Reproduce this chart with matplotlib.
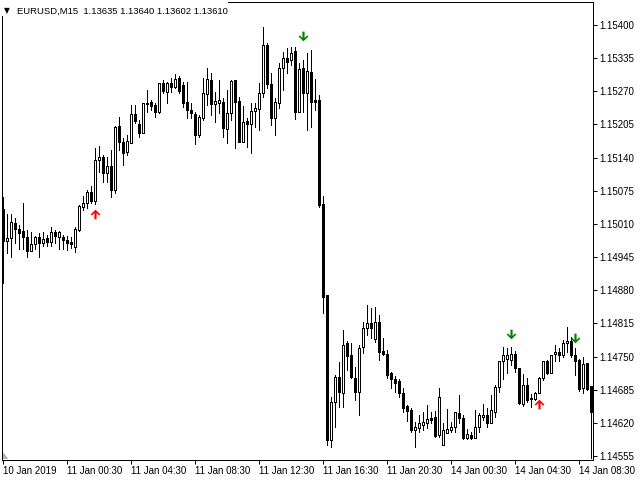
import matplotlib
matplotlib.use("Agg")
import matplotlib.pyplot as plt
from matplotlib.patches import Rectangle, Polygon
from matplotlib.path import Path

# ---- data (EURUSD M15 candles) ----
opens = [1.15039, 1.14976, 1.14982, 1.15012, 1.15000, 1.14996, 1.14984, 1.14957, 1.14971, 1.14984,
         1.14973, 1.14982, 1.14975, 1.14994, 1.14984, 1.14984, 1.14978, 1.14975, 1.14965, 1.14998,
         1.15043, 1.15051, 1.15073, 1.15055, 1.15135, 1.15141, 1.15110, 1.15124, 1.15076, 1.15202,
         1.15171, 1.15151, 1.15169, 1.15225, 1.15206, 1.15188, 1.15247, 1.15249, 1.15243, 1.15229,
         1.15286, 1.15269, 1.15286, 1.15278, 1.15296, 1.15282, 1.15249, 1.15233, 1.15225, 1.15184,
         1.15218, 1.15265, 1.15292, 1.15245, 1.15247, 1.15249, 1.15196, 1.15227, 1.15292, 1.15251,
         1.15171, 1.15212, 1.15206, 1.15231, 1.15235, 1.15267, 1.15361, 1.15284, 1.15218, 1.15247,
         1.15316, 1.15335, 1.15331, 1.15349, 1.15229, 1.15316, 1.15267, 1.15308, 1.15253, 1.15253,
         1.15049, 1.14871, 1.14586, 1.14661, 1.14710, 1.14678, 1.14776, 1.14753, 1.14708, 1.14680,
         1.14769, 1.14806, 1.14816, 1.14784, 1.14818, 1.14761, 1.14755, 1.14718, 1.14706, 1.14702,
         1.14678, 1.14653, 1.14645, 1.14606, 1.14610, 1.14616, 1.14620, 1.14629, 1.14631, 1.14596,
         1.14576, 1.14600, 1.14606, 1.14612, 1.14639, 1.14629, 1.14590, 1.14596, 1.14590, 1.14612,
         1.14631, 1.14635, 1.14620, 1.14641, 1.14690, 1.14741, 1.14745, 1.14743, 1.14755, 1.14727,
         1.14657, 1.14694, 1.14669, 1.14667, 1.14678, 1.14708, 1.14741, 1.14718, 1.14755, 1.14759,
         1.14753, 1.14776, 1.14780, 1.14753, 1.14743, 1.14688, 1.14737, 1.14692]
highs = [1.15063, 1.15029, 1.15029, 1.15022, 1.15008, 1.15051, 1.14998, 1.14994, 1.14986, 1.14992,
         1.14994, 1.14988, 1.15004, 1.14998, 1.14996, 1.14988, 1.14986, 1.14984, 1.15004, 1.15047,
         1.15065, 1.15076, 1.15084, 1.15159, 1.15163, 1.15145, 1.15141, 1.15155, 1.15202, 1.15220,
         1.15178, 1.15184, 1.15243, 1.15243, 1.15214, 1.15247, 1.15273, 1.15253, 1.15247, 1.15286,
         1.15292, 1.15288, 1.15296, 1.15304, 1.15300, 1.15288, 1.15288, 1.15247, 1.15229, 1.15224,
         1.15296, 1.15316, 1.15306, 1.15269, 1.15292, 1.15257, 1.15273, 1.15292, 1.15292, 1.15259,
         1.15241, 1.15218, 1.15247, 1.15247, 1.15286, 1.15396, 1.15365, 1.15306, 1.15257, 1.15325,
         1.15347, 1.15355, 1.15357, 1.15357, 1.15325, 1.15331, 1.15345, 1.15351, 1.15294, 1.15263,
         1.15065, 1.14871, 1.14671, 1.14714, 1.14739, 1.14802, 1.14780, 1.14776, 1.14729, 1.14773,
         1.14818, 1.14851, 1.14845, 1.14847, 1.14831, 1.14786, 1.14763, 1.14720, 1.14712, 1.14706,
         1.14688, 1.14655, 1.14649, 1.14622, 1.14635, 1.14641, 1.14655, 1.14641, 1.14643, 1.14688,
         1.14620, 1.14647, 1.14622, 1.14641, 1.14675, 1.14635, 1.14608, 1.14602, 1.14645, 1.14639,
         1.14657, 1.14649, 1.14675, 1.14694, 1.14741, 1.14769, 1.14767, 1.14769, 1.14761, 1.14727,
         1.14716, 1.14708, 1.14676, 1.14680, 1.14710, 1.14741, 1.14743, 1.14753, 1.14773, 1.14767,
         1.14782, 1.14808, 1.14788, 1.14767, 1.14745, 1.14749, 1.14737, 1.14692]
lows = [1.14894, 1.14953, 1.14945, 1.14973, 1.14961, 1.14961, 1.14945, 1.14957, 1.14961, 1.14945,
        1.14967, 1.14967, 1.14967, 1.14973, 1.14961, 1.14961, 1.14959, 1.14963, 1.14955, 1.14996,
        1.15037, 1.15041, 1.15051, 1.15049, 1.15112, 1.15092, 1.15092, 1.15063, 1.15071, 1.15155,
        1.15125, 1.15145, 1.15169, 1.15208, 1.15180, 1.15188, 1.15229, 1.15233, 1.15220, 1.15227,
        1.15267, 1.15247, 1.15269, 1.15276, 1.15267, 1.15239, 1.15218, 1.15218, 1.15167, 1.15180,
        1.15214, 1.15243, 1.15224, 1.15210, 1.15227, 1.15180, 1.15169, 1.15214, 1.15159, 1.15171,
        1.15171, 1.15161, 1.15149, 1.15200, 1.15194, 1.15259, 1.15276, 1.15204, 1.15184, 1.15237,
        1.15273, 1.15306, 1.15322, 1.15216, 1.15229, 1.15229, 1.15194, 1.15200, 1.15233, 1.15043,
        1.14835, 1.14576, 1.14573, 1.14612, 1.14651, 1.14651, 1.14724, 1.14708, 1.14665, 1.14635,
        1.14757, 1.14792, 1.14786, 1.14778, 1.14743, 1.14753, 1.14708, 1.14688, 1.14680, 1.14671,
        1.14641, 1.14624, 1.14602, 1.14573, 1.14602, 1.14606, 1.14610, 1.14620, 1.14592, 1.14592,
        1.14576, 1.14600, 1.14602, 1.14602, 1.14620, 1.14588, 1.14588, 1.14588, 1.14590, 1.14602,
        1.14625, 1.14612, 1.14620, 1.14631, 1.14680, 1.14706, 1.14718, 1.14733, 1.14720, 1.14657,
        1.14653, 1.14661, 1.14651, 1.14665, 1.14678, 1.14704, 1.14716, 1.14718, 1.14741, 1.14741,
        1.14749, 1.14759, 1.14749, 1.14714, 1.14682, 1.14678, 1.14684, 1.14551]
closes = [1.14976, 1.14982, 1.15014, 1.15000, 1.14992, 1.14984, 1.14957, 1.14971, 1.14984, 1.14973,
          1.14980, 1.14975, 1.14994, 1.14986, 1.14994, 1.14978, 1.14973, 1.14971, 1.15000, 1.15045,
          1.15051, 1.15073, 1.15055, 1.15135, 1.15141, 1.15110, 1.15124, 1.15076, 1.15200, 1.15171,
          1.15149, 1.15173, 1.15225, 1.15212, 1.15188, 1.15247, 1.15245, 1.15241, 1.15229, 1.15286,
          1.15271, 1.15286, 1.15278, 1.15294, 1.15271, 1.15247, 1.15233, 1.15227, 1.15184, 1.15220,
          1.15267, 1.15294, 1.15245, 1.15251, 1.15253, 1.15198, 1.15227, 1.15290, 1.15249, 1.15171,
          1.15210, 1.15206, 1.15231, 1.15237, 1.15267, 1.15361, 1.15284, 1.15218, 1.15249, 1.15316,
          1.15335, 1.15327, 1.15345, 1.15229, 1.15314, 1.15267, 1.15310, 1.15249, 1.15249, 1.15047,
          1.14867, 1.14586, 1.14661, 1.14710, 1.14680, 1.14773, 1.14751, 1.14710, 1.14680, 1.14767,
          1.14806, 1.14816, 1.14806, 1.14818, 1.14759, 1.14755, 1.14714, 1.14706, 1.14698, 1.14678,
          1.14649, 1.14643, 1.14606, 1.14612, 1.14620, 1.14622, 1.14627, 1.14625, 1.14594, 1.14671,
          1.14606, 1.14608, 1.14612, 1.14641, 1.14629, 1.14590, 1.14598, 1.14590, 1.14612, 1.14635,
          1.14635, 1.14620, 1.14645, 1.14690, 1.14741, 1.14753, 1.14753, 1.14755, 1.14727, 1.14659,
          1.14694, 1.14665, 1.14667, 1.14678, 1.14708, 1.14741, 1.14718, 1.14753, 1.14759, 1.14753,
          1.14776, 1.14780, 1.14753, 1.14741, 1.14686, 1.14735, 1.14686, 1.14641]

time_tick_positions = [0, 16, 32, 48, 64, 80, 96, 112, 128, 144]
time_tick_labels = ["10 Jan 2019", "11 Jan 00:30", "11 Jan 04:30", "11 Jan 08:30", "11 Jan 12:30",
                    "11 Jan 16:30", "11 Jan 20:30", "14 Jan 00:30", "14 Jan 04:30", "14 Jan 08:30"]
price_ticks = [1.15400, 1.15335, 1.15270, 1.15205, 1.15140, 1.15075, 1.15010,
               1.14945, 1.14880, 1.14815, 1.14750, 1.14685, 1.14620, 1.14555]

up_idx = [23, 134]
up_price = [1.15029, 1.14657]
down_idx = [75, 127, 143]
down_price = [1.15378, 1.14794, 1.14786]

header = "EURUSD,M15  1.13635 1.13640 1.13602 1.13610"

# ---- drawing ----
FONT = "Liberation Sans"
W, H = 640, 480
fig = plt.figure(figsize=(6.4, 4.8), dpi=100)
fig.patch.set_facecolor("white")
ax = fig.add_axes([2 / W, 20 / H, 591 / W, 458 / H])
ax.set_facecolor("white")
px = 0.72  # one pixel in points

n = len(opens)
for i in range(n):
    o, h, l, c = opens[i], highs[i], lows[i], closes[i]
    ax.vlines(i, l, h, color="black", linewidth=px, antialiased=False, zorder=2)
    bottom = min(o, c)
    height = max(abs(c - o), 1e-7)
    face = "white" if c >= o else "black"
    ax.add_patch(Rectangle((i - 0.25, bottom), 0.5, height, facecolor=face,
                           edgecolor="black", linewidth=px, antialiased=False, zorder=3))

# thick arrow markers (chevron head + 2px shaft)
up_verts = [(0, 4.5), (4.5, 0), (3.3, -1.0), (1.0, 1.4), (1.0, -4.5), (-1.0, -4.5),
            (-1.0, 1.4), (-3.3, -1.0), (-4.5, 0), (0, 4.5)]
up_marker = Path(up_verts, closed=True)
down_marker = Path([(x, -y) for x, y in up_verts], closed=True)
ax.plot(up_idx, up_price, linestyle="none", marker=up_marker, markersize=7,
        color="#ff0000", markeredgewidth=0, zorder=4)
ax.plot(down_idx, down_price, linestyle="none", marker=down_marker, markersize=7,
        color="#008000", markeredgewidth=0, zorder=4)

ax.set_xlim(-0.325, 147.425)
ax.set_ylim(1.145471, 1.154451)

for sp in ax.spines.values():
    sp.set_linewidth(px)
    sp.set_color("black")

ax.yaxis.tick_right()
ax.set_yticks(price_ticks)
ax.set_yticklabels([f"{v:.5f}" for v in price_ticks], fontsize=7, family=FONT)
ax.tick_params(axis="y", direction="out", length=3, width=px, pad=1.5, colors="black")

ax.set_xticks(time_tick_positions)
ax.set_xticklabels(time_tick_labels, fontsize=7, family=FONT, ha="left")
ax.tick_params(axis="x", direction="out", length=3, width=px, pad=1, colors="black")

# small grey marker at bottom-left corner
ax.add_patch(Polygon([(0.0017, 0.002), (0.0017, 0.017), (0.011, 0.002)], closed=True,
                     transform=ax.transAxes, facecolor="#b0b0b0", edgecolor="none", zorder=5))

# header box
fig.patches.append(Rectangle((0, 1 - 16 / H), 228 / W, 16 / H, transform=fig.transFigure,
                             facecolor="white", edgecolor="none", zorder=5))
fig.text(4 / W, 1 - 11 / H, "\u25bc", fontsize=5.5, family="DejaVu Sans", va="center",
         ha="left", zorder=6)
fig.text(17 / W, 1 - 11 / H, header, fontsize=6.8, family=FONT, va="center", ha="left", zorder=6)

fig.savefig("out.png", dpi=100)
